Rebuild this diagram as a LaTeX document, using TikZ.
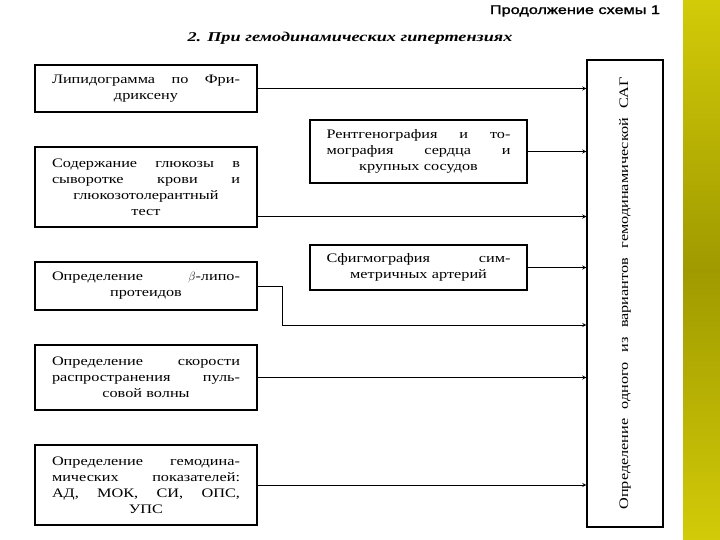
\documentclass[tikz,border=0pt]{standalone}
\usepackage{fontspec}
\setmainfont{Liberation Serif}
\newfontfamily\boxfont[FakeStretch=1.25]{Liberation Serif}
\newfontfamily\headfont[FakeStretch=1.3,FakeBold=1.5]{Liberation Sans}
\newfontfamily\titlefont[FakeStretch=1.35]{Liberation Serif}
\usetikzlibrary{positioning, calc}
\definecolor{striptop}{HTML}{D2CB08}
\definecolor{stripmid}{HTML}{A09A00}
% justified line of a box
\newcommand{\jline}[2][188pt]{{\spaceskip=0.3em plus 1fil\makebox[#1][s]{#2}}}

\begin{document}
\begin{tikzpicture}[x=1pt, y=-1pt, >=stealth,
  box/.style={draw, line width=1.1pt, inner sep=0pt, align=center,
    font=\boxfont\fontsize{13}{16}\selectfont},
  lbox/.style={box, minimum width=222pt, text width=188pt},
  rbox/.style={box, minimum width=217pt, text width=184pt},
  link/.style={->, line width=0.9pt}]
\fill[white] (0,0) rectangle (720,540);
\shade[top color=striptop, bottom color=striptop, middle color=stripmid] (683,0) rectangle (720,540);

\node[font=\headfont\fontsize{12.5}{13}\selectfont] (cont) at (575,11) {Продолжение схемы 1};
\node[font=\titlefont\bfseries\itshape\fontsize{13.5}{14}\selectfont] (title) at (350,38) {2. При гемодинамических гипертензиях};

% left column
\node[lbox, minimum height=47pt] (lipid) at (146,88.5) {\jline{Липидограмма по Фри-}\\дриксену};
\node[lbox, minimum height=80pt] (gluc) at (146,187) {\jline{Содержание глюкозы в}\\\jline{сыворотке крови и}\\глюкозотолерантный\\тест};
\node[lbox, minimum height=48pt] (beta) at (146,286) {\jline{Определение $\beta$-липо-}\\протеидов};
\node[lbox, minimum height=65pt] (pulse) at (146,377.5) {\jline{Определение скорости}\\\jline{распространения пуль-}\\совой волны};
\node[lbox, minimum height=80pt] (hemo) at (146,485) {\jline{Определение гемодина-}\\\jline{мических показателей:}\\\jline{АД, МОК, СИ, ОПС,}\\УПС};

% middle column
\node[rbox, minimum height=63pt] (xray) at (418.5,151.5) {\jline[184pt]{Рентгенография и то-}\\\jline[184pt]{мография сердца и}\\крупных сосудов};
\node[rbox, minimum height=45pt] (sphyg) at (418.5,267.5) {\jline[184pt]{Сфигмография сим-}\\метричных артерий};

% result
\node[box, minimum width=76pt, minimum height=467pt] (sag) at (625,293.5) {};
\node[rotate=90, font=\boxfont\fontsize{13}{14}\selectfont] (sagtext) at (sag.center) {\makebox[432pt][s]{Определение одного из вариантов гемодинамической САГ}};

\coordinate (gout) at ($(gluc.south east)+(0,-11)$);
\coordinate (bend) at (282,325);

\draw[link] (lipid.east) -- (lipid.east -| sag.west);
\draw[link] (xray.east) -- (xray.east -| sag.west);
\draw[link] (gout) -- (gout -| sag.west);
\draw[link] (sphyg.east) -- (sphyg.east -| sag.west);
\draw[link] (beta.east) -| (bend) -- (bend -| sag.west);
\draw[link] (pulse.east) -- (pulse.east -| sag.west);
\draw[link] (hemo.east) -- (hemo.east -| sag.west);

\end{tikzpicture}
\end{document}
